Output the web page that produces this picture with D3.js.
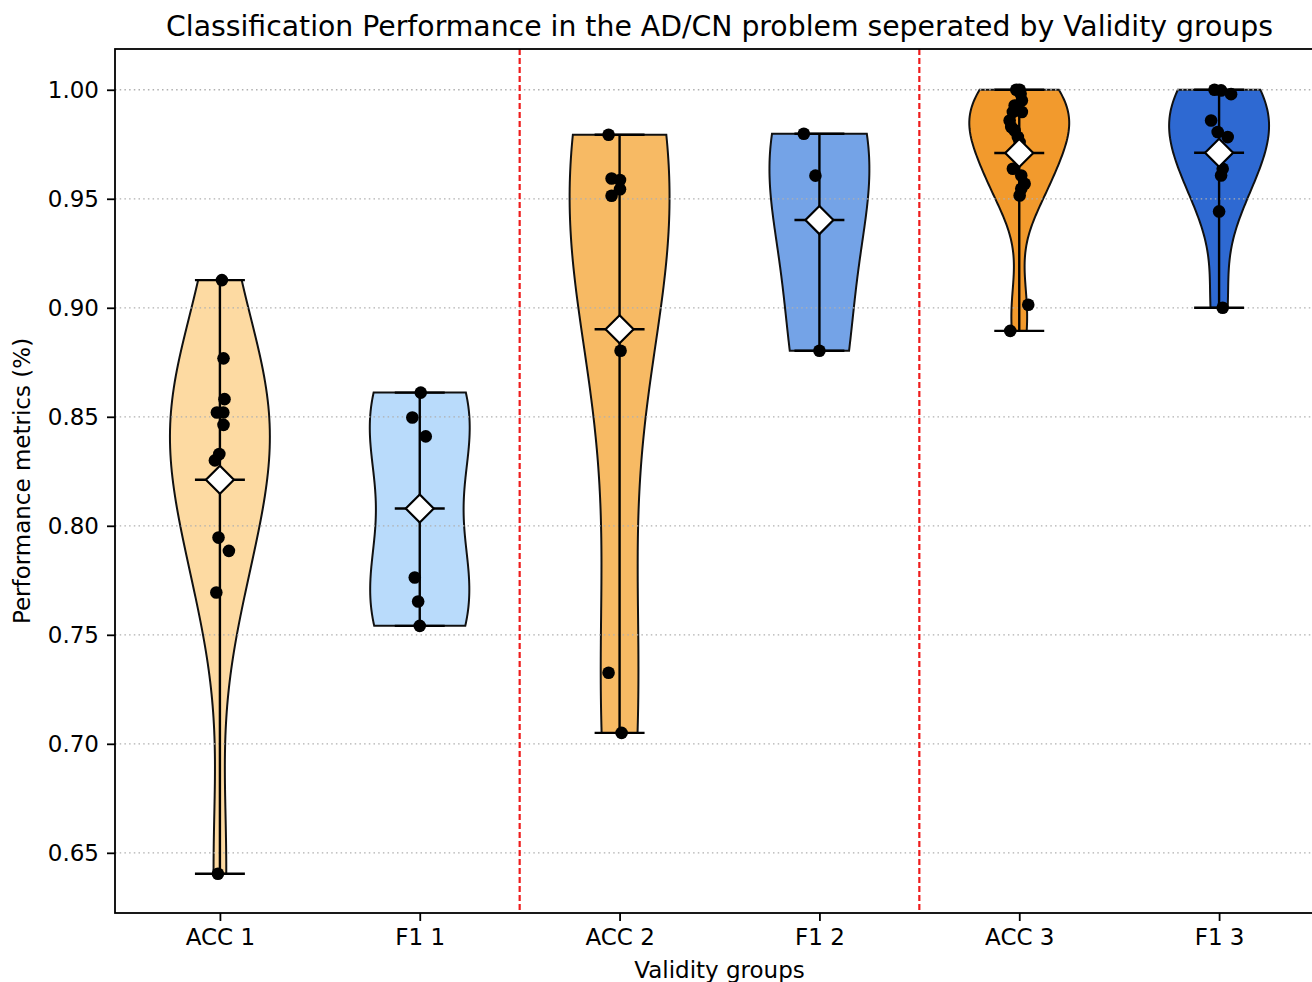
<!DOCTYPE html>
<html>
<head>
<meta charset="utf-8">
<script src="https://cdn.jsdelivr.net/npm/d3@7"></script>
<style>
  html, body { margin: 0; padding: 0; background: #fff; }
  svg { display: block; font-family: "DejaVu Sans", sans-serif; }
</style>
</head>
<body>
<svg id="chart" width="1312" height="982"></svg>
<script>
// ---------------- data ----------------
const categories = ["ACC 1", "F1 1", "ACC 2", "F1 2", "ACC 3", "F1 3"];
const colors = ["#FDDAA2", "#B9DBFB", "#F7BA64", "#74A3E7", "#F29A2D", "#2E69D2"];

const acc1 = [0.9127, 0.8768, 0.8581, 0.8520, 0.8520, 0.8463, 0.8329, 0.8300, 0.7946, 0.7885, 0.7694, 0.6404];
const f1_1 = [0.8611, 0.8497, 0.8410, 0.7763, 0.7653, 0.7541];
const acc2 = [0.9794, 0.9593, 0.9586, 0.9544, 0.9514, 0.8803, 0.7326, 0.7050];
const f1_2 = [0.9798, 0.9606, 0.8803];
const acc3 = [1.0000, 1.0000, 0.9982, 0.9951, 0.9928, 0.9898, 0.9898, 0.9859, 0.9829, 0.9813, 0.9783, 0.9760,
              0.9638, 0.9607, 0.9569, 0.9546, 0.9515, 0.9014, 0.8894];
const f1_3 = [1.0000, 0.9997, 0.9980, 0.9859, 0.9806, 0.9783, 0.9638, 0.9607, 0.9442, 0.9000];

// horizontal jitter of the scatter points (x data units)
const jit_acc1 = [0.010, 0.018, 0.023, -0.015, 0.017, 0.018, -0.003, -0.025, -0.007, 0.045, -0.018, -0.010];
const jit_f1_1 = [0.005, -0.037, 0.030, -0.025, -0.008, 0.000];
const jit_acc2 = [-0.055, -0.040, 0.002, 0.002, -0.040, 0.005, -0.055, 0.010];
const jit_f1_2 = [-0.078, -0.020, 0.000];
const jit_acc3 = [0.002, -0.015, 0.007, 0.013, -0.023, -0.032, 0.013, -0.048, -0.040, -0.023, -0.007, 0.002,
                  -0.032, 0.010, 0.027, 0.010, 0.002, 0.045, -0.045];
const jit_f1_3 = [-0.023, 0.010, 0.060, -0.040, -0.007, 0.043, 0.018, 0.010, 0.000, 0.018];

const yTicks = [0.65, 0.70, 0.75, 0.80, 0.85, 0.90, 0.95, 1.00];
const separators = [2.5, 4.5];

const title = "Classification Performance in the AD/CN problem seperated by Validity groups";
const xLabel = "Validity groups";
const yLabel = "Performance metrics (%)";

const series = [acc1, f1_1, acc2, f1_2, acc3, f1_3];
const jitters = [jit_acc1, jit_f1_1, jit_acc2, jit_f1_2, jit_acc3, jit_f1_3];

// ---------------- layout ----------------
const plot = { left: 115, top: 49, right: 1324, bottom: 913 };
const svg = d3.select("#chart");
const FS = 23;

const x = d3.scaleLinear().domain([0.475, 6.525]).range([plot.left, plot.right]);
const y = d3.scaleLinear().domain([0.6224, 1.0187]).range([plot.bottom, plot.top]);

// Gaussian KDE (Scott's rule, like matplotlib violinplot)
function kde(data, npts) {
  const n = data.length;
  const mean = d3.mean(data);
  const sd = Math.sqrt(d3.sum(data, d => (d - mean) ** 2) / (n - 1));
  const bw = sd * Math.pow(n, -0.2);
  const lo = d3.min(data), hi = d3.max(data);
  const pts = [];
  for (let i = 0; i < npts; i++) {
    const t = lo + (hi - lo) * i / (npts - 1);
    let s = 0;
    for (const d of data) s += Math.exp(-0.5 * ((t - d) / bw) ** 2);
    pts.push([t, s / (n * bw * Math.sqrt(2 * Math.PI))]);
  }
  const mx = d3.max(pts, p => p[1]);
  return pts.map(p => [p[0], 0.25 * p[1] / mx]);
}

const clipId = "plotclip";
svg.append("defs").append("clipPath").attr("id", clipId)
  .append("rect").attr("x", plot.left).attr("y", plot.top)
  .attr("width", plot.right - plot.left).attr("height", plot.bottom - plot.top);

const g = svg.append("g").attr("clip-path", `url(#${clipId})`);

// violins
series.forEach((data, i) => {
  const pos = i + 1;
  const dens = kde(data, 100);
  const a = d3.area()
    .y(d => y(d[0]))
    .x0(d => x(pos - d[1]))
    .x1(d => x(pos + d[1]));
  g.append("path")
    .attr("d", a(dens))
    .attr("fill", colors[i])
    .attr("stroke", "#111")
    .attr("stroke-width", 2);
});

// grid (drawn above the violin fills, as in matplotlib)
g.append("g").selectAll("line").data(yTicks).join("line")
  .attr("x1", plot.left).attr("x2", plot.right)
  .attr("y1", d => y(d)).attr("y2", d => y(d))
  .attr("stroke", "#b0b0b0").attr("stroke-width", 1.3)
  .attr("stroke-dasharray", "1.5,3.2");

// separators
g.append("g").selectAll("line").data(separators).join("line")
  .attr("x1", d => x(d)).attr("x2", d => x(d))
  .attr("y1", plot.top).attr("y2", plot.bottom)
  .attr("stroke", "#ee1c1c").attr("stroke-width", 2.2)
  .attr("stroke-dasharray", "6,3");

// bars, extremes, means
series.forEach((data, i) => {
  const pos = i + 1;
  const lo = d3.min(data), hi = d3.max(data), mu = d3.mean(data);
  const gg = g.append("g").attr("stroke", "#000").attr("stroke-width", 2.4);
  gg.append("line").attr("x1", x(pos)).attr("x2", x(pos)).attr("y1", y(lo)).attr("y2", y(hi));
  [lo, hi, mu].forEach(v => {
    gg.append("line").attr("x1", x(pos - 0.125)).attr("x2", x(pos + 0.125))
      .attr("y1", y(v)).attr("y2", y(v));
  });
});

// points
series.forEach((data, i) => {
  const pos = i + 1;
  g.append("g").selectAll("circle").data(data).join("circle")
    .attr("cx", (d, k) => x(pos + jitters[i][k]))
    .attr("cy", d => y(d))
    .attr("r", 6.3)
    .attr("fill", "#000");
});

// mean diamonds
series.forEach((data, i) => {
  const pos = i + 1;
  const mu = d3.mean(data);
  const cx = x(pos), cy = y(mu), r = 14;
  g.append("path")
    .attr("d", `M${cx},${cy - r}L${cx + r},${cy}L${cx},${cy + r}L${cx - r},${cy}Z`)
    .attr("fill", "#fff").attr("stroke", "#000").attr("stroke-width", 2.2);
});

// axes
const xAxis = d3.axisBottom(x).tickValues(d3.range(1, 7)).tickFormat(d => categories[d - 1])
  .tickSizeOuter(0).tickSizeInner(8).tickPadding(8);
const yAxis = d3.axisLeft(y).tickValues(yTicks).tickFormat(d3.format(".2f"))
  .tickSizeOuter(0).tickSizeInner(8).tickPadding(8);

const gx = svg.append("g").attr("transform", `translate(0,${plot.bottom})`).call(xAxis);
const gy = svg.append("g").attr("transform", `translate(${plot.left},0)`).call(yAxis);
[gx, gy].forEach(ax => {
  ax.select(".domain").remove();
  ax.selectAll(".tick line").attr("stroke", "#000").attr("stroke-width", 1.8);
  ax.selectAll(".tick text").attr("fill", "#000").attr("font-size", FS)
    .attr("font-family", "DejaVu Sans");
});

// spines
svg.append("rect")
  .attr("x", plot.left).attr("y", plot.top)
  .attr("width", plot.right - plot.left).attr("height", plot.bottom - plot.top)
  .attr("fill", "none").attr("stroke", "#000").attr("stroke-width", 1.8);

// labels
svg.append("text").attr("x", (plot.left + plot.right) / 2).attr("y", 36)
  .attr("text-anchor", "middle").attr("font-size", 28.3).attr("fill", "#000").text(title);
svg.append("text").attr("x", (plot.left + plot.right) / 2).attr("y", 978)
  .attr("text-anchor", "middle").attr("font-size", FS).attr("fill", "#000").text(xLabel);
svg.append("text")
  .attr("transform", `translate(30,${(plot.top + plot.bottom) / 2}) rotate(-90)`)
  .attr("text-anchor", "middle").attr("font-size", FS).attr("fill", "#000").text(yLabel);
</script>
</body>
</html>
